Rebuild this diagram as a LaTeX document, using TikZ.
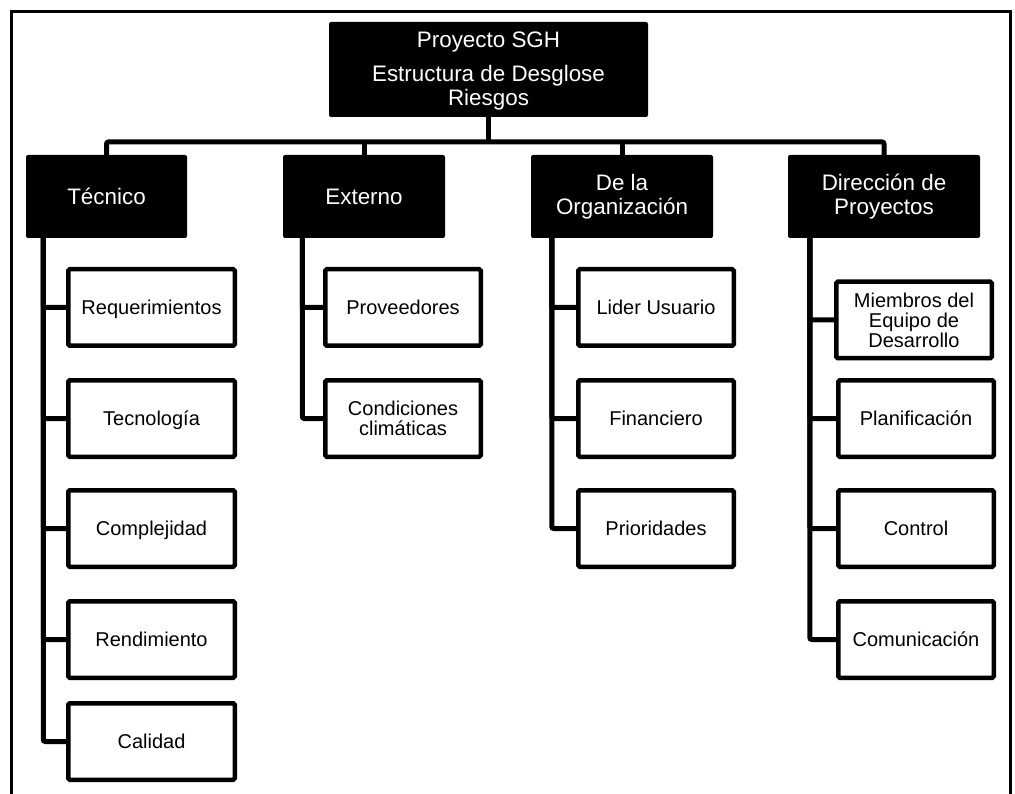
\documentclass[tikz,border=0pt]{standalone}
\usepackage{fontspec}
\setmainfont{Liberation Sans}
\begin{document}
\begin{tikzpicture}[x=1pt,y=-1pt,
  frame/.style={line width=3.5pt},
  link/.style={line width=5pt, rounded corners=2pt},
  headbox/.style={fill=black, rounded corners=2pt, inner sep=0pt,
    minimum width=319pt, minimum height=95pt},
  headtext/.style={text=white, inner sep=0pt, font=\fontsize{22.4}{24}\selectfont},
  catbox/.style={fill=black, text=white, rounded corners=2pt, inner sep=2pt,
    minimum height=83pt, align=center, font=\fontsize{22.4}{24}\selectfont},
  itembox/.style={draw=black, fill=white, line width=4.5pt, rounded corners=1.5pt,
    inner sep=2pt, minimum height=76.5pt, align=center,
    font=\fontsize{20}{20}\selectfont},
  oneline/.style={text height=14.3pt, text depth=0pt},
  wideitem/.style={itembox, oneline, minimum width=166.5pt},
  item/.style={itembox, oneline, minimum width=155.5pt},
  multiitem/.style={itembox, minimum width=155.5pt}
]
\useasboundingbox (0,0) rectangle (1015,794);
\clip (0,0) rectangle (1015,794);
\fill[white] (0,0) rectangle (1015,794);

% outer frame (runs past the lower edge)
\draw[frame] (11.3,11.3) rectangle (1010.3,830);

% root
\node[headbox] (root) at (488.5,69.5) {};
\node[headtext, anchor=base] (rootl1) at (488.5,48) {Proyecto SGH};
\node[headtext, anchor=base] (rootl2) at (488.5,82) {Estructura de Desglose};
\node[headtext, anchor=base] (rootl3) at (488.5,106) {Riesgos};

% categories
\node[catbox, minimum width=161pt] (tec) at (106.5,196.5) {Técnico};
\node[catbox, minimum width=162pt] (ext) at (364,196.5) {Externo};
\node[catbox, minimum width=182pt] (org) at (622,196.5) {De la\\Organización};
\node[catbox, minimum width=192pt] (dir) at (884,196.5) {Dirección de\\Proyectos};

% Técnico
\node[wideitem] (req) at (151.5,307.5) {Requerimientos};
\node[wideitem] (tecn) at (151.5,418.5) {Tecnología};
\node[wideitem] (comp) at (151.5,528.5) {Complejidad};
\node[wideitem] (rend) at (151.5,639.5) {Rendimiento};
\node[wideitem] (cal) at (151.5,741.5) {Calidad};

% Externo
\node[item] (prov) at (403,307.5) {Proveedores};
\node[multiitem] (clim) at (403,418.5) {Condiciones\\climáticas};

% De la Organización
\node[item] (lider) at (656,307.5) {Lider Usuario};
\node[item] (fin) at (656,418.5) {Financiero};
\node[item] (prio) at (656,528.5) {Prioridades};

% Dirección de Proyectos
\node[multiitem] (miem) at (914,320) {Miembros del\\Equipo de\\Desarrollo};
\node[item] (plan) at (916,418.5) {Planificación};
\node[item] (ctrl) at (916,528.5) {Control};
\node[item] (comu) at (916,639.5) {Comunicación};

% bus from the root to the categories
\coordinate (bus) at (0,142);
\draw[link] (root.south) -- (root.south |- bus);
\draw[link] (tec.north) -- (tec.north |- bus) -- (dir.north |- bus) -- (dir.north);
\draw[link] (ext.north) -- (ext.north |- bus);
\draw[link] (org.north) -- (org.north |- bus);

% trunks from each category to its items
\path (tec.south west) ++(17.5,0) coordinate (tecT);
\path (ext.south west) ++(19.5,0) coordinate (extT);
\path (org.south west) ++(21,0) coordinate (orgT);
\path (dir.south west) ++(22,0) coordinate (dirT);

\foreach \c in {req,tecn,comp,rend,cal} \draw[link] (tecT) |- (\c.west);
\foreach \c in {prov,clim} \draw[link] (extT) |- (\c.west);
\foreach \c in {lider,fin,prio} \draw[link] (orgT) |- (\c.west);
\foreach \c in {miem,plan,ctrl,comu} \draw[link] (dirT) |- (\c.west);
\end{tikzpicture}
\end{document}
